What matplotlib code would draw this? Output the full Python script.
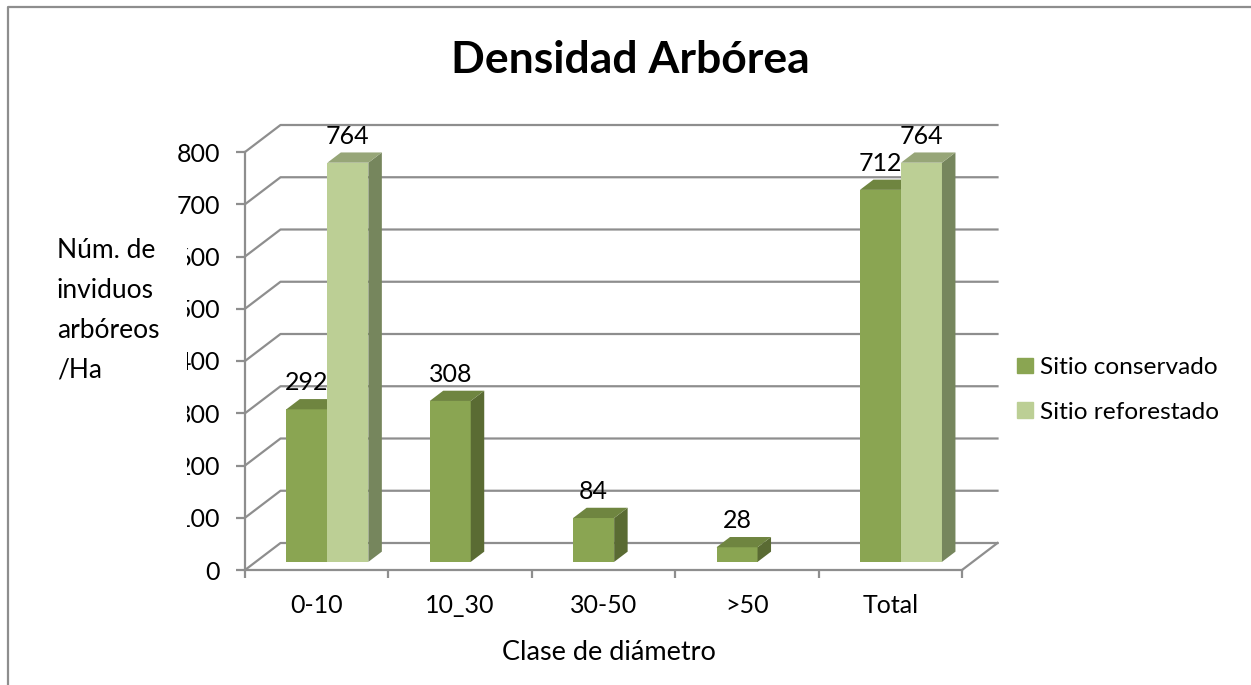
import matplotlib
matplotlib.use('Agg')
import matplotlib.pyplot as plt
from matplotlib.lines import Line2D
from matplotlib.patches import Patch, Rectangle

plt.rcParams['font.family'] = ['Lato', 'DejaVu Sans']

# Values.
categories = ['0-10', '10_30', '30-50', '>50', 'Total']
conservado = [292, 308, 84, 28, 712]
reforestado = [764, None, None, None, 764]
yticks = [0, 100, 200, 300, 400, 500, 600, 700, 800]

W, H = 1251, 685
FS = 18
fig = plt.figure(figsize=(W / 100, H / 100), dpi=100)

# Axes covers the front plane of the fake 3D box.
left, right, bottom, top = 245, 962, 570, 152
ax = fig.add_axes([left / W, 1 - bottom / H, (right - left) / W, (bottom - top) / H])
ax.set_xlim(0, len(categories))
ax.set_ylim(0, 800)

# Depth of the box, in data units.
DX = 35.5 / (right - left) * len(categories)
DY = 27 / (bottom - top) * 800
BAR_W = 0.286
BAR_D0 = 0.30
BAR_D1 = 0.68

GRAY = '#8e8e8e'
LW = 1.6
for s in ['top', 'right']:
    ax.spines[s].set_visible(False)
for s in ['left', 'bottom']:
    ax.spines[s].set_color(GRAY)
    ax.spines[s].set_linewidth(LW)

# Back wall and floor lines.
for v in yticks:
    ax.plot([0, DX, len(categories) + DX], [v, v + DY, v + DY], color=GRAY, lw=LW, clip_on=False, zorder=1)
ax.plot([len(categories), len(categories) + DX], [0, DY], color=GRAY, lw=LW, clip_on=False, zorder=1)


def draw_bar(x0, value, front, side, roof, z):
    x1 = x0 + BAR_W
    y0 = BAR_D0 * DY
    y1 = y0 + value
    d = (BAR_D1 - BAR_D0)
    ax.bar(x0, value, BAR_W, bottom=y0, align='edge', color=front, clip_on=False, zorder=z)
    ax.fill([x1, x1 + d * DX, x1 + d * DX, x1], [y0, y0 + d * DY, y1 + d * DY, y1], color=side, lw=0, clip_on=False, zorder=z)
    ax.fill([x0, x1, x1 + d * DX, x0 + d * DX], [y1, y1, y1 + d * DY, y1 + d * DY], color=roof, lw=0, clip_on=False, zorder=z)
    ax.annotate(str(value), (x0 + BAR_W / 2, y1), xytext=(0, 19), textcoords='offset points', ha='center', va='center',
                fontsize=FS, color='black', zorder=10, annotation_clip=False)


shift = BAR_D0 * DX
for i in range(len(categories)):
    c = i + 0.5 + shift
    draw_bar(c - BAR_W, conservado[i], '#8aa552', '#5a6b33', '#6f8540', 3)
    if reforestado[i] is not None:
        draw_bar(c, reforestado[i], '#bccf95', '#76865d', '#97a678', 4)

ax.set_xticks(range(len(categories) + 1))
ax.set_xticklabels([])
ax.set_xticks([i + 0.5 for i in range(len(categories))], categories, minor=True)
ax.tick_params(axis='x', which='major', length=6, width=LW, color=GRAY)
ax.tick_params(axis='x', which='minor', length=0, pad=17.5, labelsize=FS)
ax.set_yticks(yticks)
ax.tick_params(axis='y', length=6.5, width=LW, color=GRAY, pad=11.5, labelsize=FS)

# White box of the axis title cuts the tick labels, as in the original.
fig.add_artist(Rectangle((30 / W, 1 - 530 / H), 157 / W, 315 / H, transform=fig.transFigure, color='white', lw=0, zorder=2))
fig.text(57 / W, 1 - 310 / H, 'Núm. de\ninviduos\narbóreos\n/Ha', fontsize=19, ha='left', va='center', linespacing=1.75, zorder=3)

fig.text(630 / W, 1 - 60 / H, 'Densidad Arbórea', fontsize=32, fontweight='bold', ha='center', va='center')
fig.text(609 / W, 1 - 653 / H, 'Clase de diámetro', fontsize=19.5, ha='center', va='center')

handles = [Patch(color='#8aa552'), Patch(color='#bccf95')]
fig.legend(handles, ['Sitio conservado', 'Sitio reforestado'], loc='center left', bbox_to_anchor=(995 / W, 1 - 390 / H),
           frameon=False, fontsize=17.6, handlelength=0.64, handleheight=0.58, handletextpad=0.3, labelspacing=0.95)

# Chart border: only the top and left edges are inside the picture.
fig.add_artist(Line2D([8 / W, 8 / W, 1], [0, 1 - 7 / H, 1 - 7 / H], transform=fig.transFigure, color=GRAY, lw=LW))

fig.savefig('out.png', dpi=100)
